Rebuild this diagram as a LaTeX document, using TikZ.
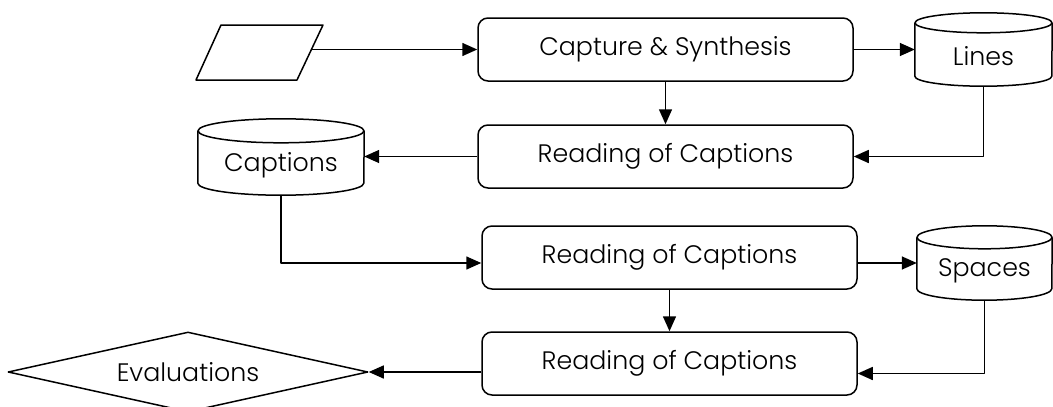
\documentclass[tikz,border=0pt]{standalone}
\usepackage{fontspec}
\setmainfont{Poppins}[UprightFont=* Light]
\usetikzlibrary{arrows.meta,shapes.geometric,calc}

% Storage drum: invisible named node plus the drawn cylinder outline
% #1 name, #2 centre, #3 width, #4 height, #5 lid radius, #6 label
\newcommand\drum[6]{%
  \node[drumbody, minimum width=#3pt, minimum height=#4pt] (#1) at (#2) {};
  \node[lbl] at ($(#1.center)+(0pt,-#5pt*0.7)$) {#6};
  \draw[edge] ($(#1.north)+(0pt,-#5pt)$) ellipse [x radius=#3pt/2, y radius=#5pt];
  \draw[edge] ($(#1.north west)+(0pt,-#5pt)$) -- ($(#1.south west)+(0pt,#5pt)$)
    arc [start angle=180, end angle=360, x radius=#3pt/2, y radius=#5pt]
    -- ($(#1.north east)+(0pt,-#5pt)$);
}

\begin{document}
\begin{tikzpicture}[x=1pt, y=-1pt,
  edge/.style={line width=1.5pt, line join=round},
  txt/.style={font=\fontsize{25.3}{29}\selectfont},
  lbl/.style={txt, inner sep=0pt},
  proc/.style={edge, draw, txt, rounded corners=10pt, minimum width=375pt,
    minimum height=63pt, inner sep=0pt},
  drumbody/.style={inner sep=0pt, draw=none},
  decide/.style={edge, draw, txt, diamond, aspect=4.5, inner sep=0pt,
    minimum width=360pt, minimum height=80pt},
  flow/.style={edge, -{Triangle[length=15pt,width=13pt]}}]

\useasboundingbox (0,0) rectangle (1053,407);

% input parallelogram
\draw[edge] (196,80) -- (221,25) -- (323,25) -- (297,80) -- cycle;
\coordinate (inp) at (311.5,49.5);

% process boxes
\node[proc] (capture) at (665.5,49.5) {Capture \& Synthesis};
\node[proc] (readA) at (665.5,156.5) {Reading of Captions};
\node[proc] (readB) at (669.5,257.5) {Reading of Captions};
\node[proc] (readC) at (669.5,363.5) {Reading of Captions};

% stores
\drum{lines}{983.5,49.5}{137}{73}{10}{Lines}
\drum{capstore}{281,157}{166}{76}{12}{Captions}
\drum{spaces}{984.5,263}{135}{74}{11.5}{Spaces}

% decision
\node[decide] (eval) at (188,372) {Evaluations};

% connectors
\draw[flow] (inp) -- (capture.west);
\draw[flow] (capture.east) -- (lines.west);
\draw[flow] (capture.south) -- (readA.north);
\draw[flow] (lines.south) |- (readA.east);
\draw[flow] (readA.west) -- (readA.west -| capstore.east);
\draw[flow] (capstore.south) |- (readB.west |- spaces.west);
\draw[flow] (readB.east |- spaces.west) -- (spaces.west);
\draw[flow] (readB.south) -- (readC.north);
\draw[flow] (spaces.south) |- ([yshift=-10pt]readC.east);
\draw[flow] (readC.west |- eval.east) -- (eval.east);
\end{tikzpicture}
\end{document}
